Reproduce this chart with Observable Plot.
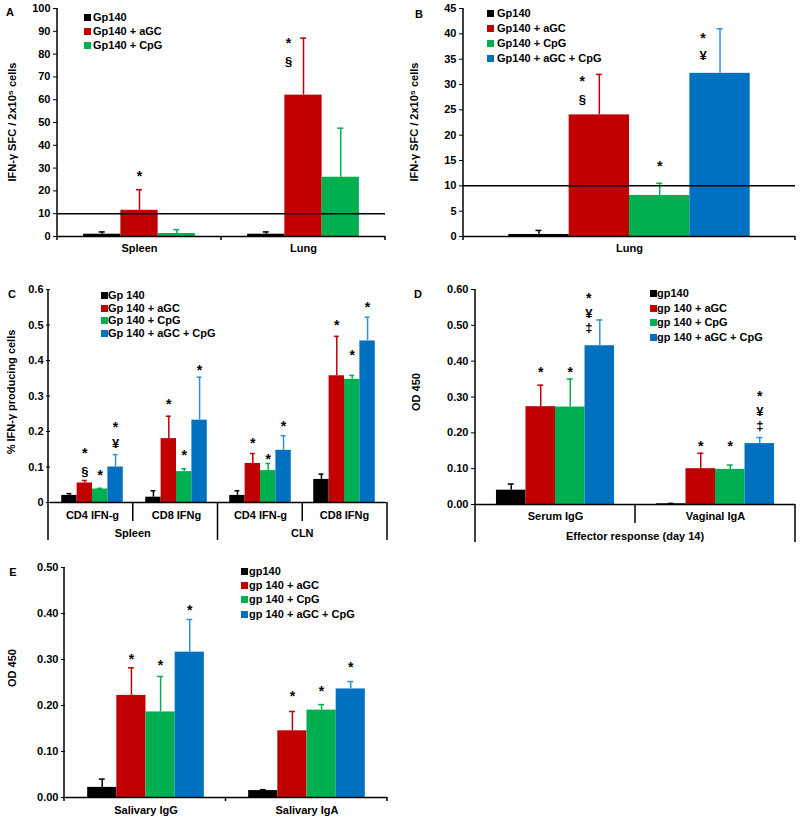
<!DOCTYPE html>
<html><head><meta charset="utf-8">
<script src="https://cdn.jsdelivr.net/npm/d3@7"></script>
<script src="https://cdn.jsdelivr.net/npm/@observablehq/plot@0.6"></script>
<style>
body{margin:0;background:#fff;}
#root{position:relative;width:800px;height:819px;overflow:hidden;font-family:"Liberation Sans",Arial,sans-serif;font-weight:bold;color:#000;}
.panel{position:absolute;}
.leg{position:absolute;font-size:11px;white-space:nowrap;line-height:12px;height:12px;}
.sw{position:absolute;width:7px;height:7px;top:3px;}
</style></head><body><div id="root"></div>
<script>
const COLORS = ["#000000", "#C00000", "#00B050", "#0070C0"];
const BLUE_ERR = "#2E93D6";

// ---- Panel A ----
const aGroups = ["Spleen", "Lung"];
const aSeries = ["Gp140", "Gp140 + aGC", "Gp140 + CpG"];
const aMean = [[1, 11.5, 1.3], [1, 62, 26]];
const aErr = [[2, 20.5, 3], [2, 87, 47.5]];
const aNotes = [["Spleen", "Gp140 + aGC", "*", 27.6], ["Lung", "Gp140 + aGC", "*", 86], ["Lung", "Gp140 + aGC", "§", 76.7]];
const aTicks = [0, 10, 20, 30, 40, 50, 60, 70, 80, 90, 100];

// ---- Panel B ----
const bGroups = ["Lung"];
const bSeries = ["Gp140", "Gp140 + aGC", "Gp140 + CpG", "Gp140 + aGC + CpG"];
const bMean = [[0.4, 24, 8.1, 32.2]];
const bErr = [[1.2, 32, 10.5, 41]];
const bNotes = [["Lung", "Gp140 + aGC", "*", 31.2], ["Lung", "Gp140 + aGC", "§", 27], ["Lung", "Gp140 + CpG", "*", 14.5],
  ["Lung", "Gp140 + aGC + CpG", "*", 39.6], ["Lung", "Gp140 + aGC + CpG", "¥", 35.7]];
const bTicks = [0, 5, 10, 15, 20, 25, 30, 35, 40, 45];

// ---- Panel C ----
const cTissues = ["Spleen", "CLN"];
const cCells = ["CD4 IFN-g", "CD8 IFNg"];
const cGroups = cTissues.flatMap(t => cCells.map(c => t + "|" + c));
const cSeries = ["Gp 140", "Gp 140 + aGC", "Gp 140 + CpG", "Gp 140 + aGC + CpG"];
const cMean = [[0.02, 0.055, 0.038, 0.1], [0.015, 0.18, 0.087, 0.232], [0.02, 0.11, 0.09, 0.147], [0.065, 0.357, 0.347, 0.455]];
const cErr = [[0.025, 0.062, 0.04, 0.135], [0.033, 0.243, 0.095, 0.353], [0.033, 0.138, 0.11, 0.188], [0.08, 0.468, 0.358, 0.522]];
const cNotes = [
  ["Spleen|CD4 IFN-g", "Gp 140 + aGC", "*", 0.146], ["Spleen|CD4 IFN-g", "Gp 140 + aGC", "§", 0.085],
  ["Spleen|CD4 IFN-g", "Gp 140 + CpG", "*", 0.084],
  ["Spleen|CD4 IFN-g", "Gp 140 + aGC + CpG", "*", 0.22], ["Spleen|CD4 IFN-g", "Gp 140 + aGC + CpG", "¥", 0.165],
  ["Spleen|CD8 IFNg", "Gp 140 + aGC", "*", 0.285], ["Spleen|CD8 IFNg", "Gp 140 + CpG", "*", 0.142], ["Spleen|CD8 IFNg", "Gp 140 + aGC + CpG", "*", 0.381],
  ["CLN|CD4 IFN-g", "Gp 140 + aGC", "*", 0.175], ["CLN|CD4 IFN-g", "Gp 140 + CpG", "*", 0.13], ["CLN|CD4 IFN-g", "Gp 140 + aGC + CpG", "*", 0.223],
  ["CLN|CD8 IFNg", "Gp 140 + aGC", "*", 0.508], ["CLN|CD8 IFNg", "Gp 140 + CpG", "*", 0.423], ["CLN|CD8 IFNg", "Gp 140 + aGC + CpG", "*", 0.557]];
const cTicks = [0, 0.1, 0.2, 0.3, 0.4, 0.5, 0.6];

// ---- Panel D ----
const dGroups = ["Serum IgG", "Vaginal IgA"];
const dSeries = ["gp140", "gp 140 + aGC", "gp 140 + CpG", "gp 140 + aGC + CpG"];
const dMean = [[0.04, 0.273, 0.272, 0.443], [0.002, 0.1, 0.098, 0.17]];
const dErr = [[0.057, 0.333, 0.35, 0.515], [0.003, 0.143, 0.11, 0.187]];
const dNotes = [
  ["Serum IgG", "gp 140 + aGC", "*", 0.376], ["Serum IgG", "gp 140 + CpG", "*", 0.376],
  ["Serum IgG", "gp 140 + aGC + CpG", "*", 0.583], ["Serum IgG", "gp 140 + aGC + CpG", "¥", 0.532], ["Serum IgG", "gp 140 + aGC + CpG", "‡", 0.492],
  ["Vaginal IgA", "gp 140 + aGC", "*", 0.171], ["Vaginal IgA", "gp 140 + CpG", "*", 0.171],
  ["Vaginal IgA", "gp 140 + aGC + CpG", "*", 0.311], ["Vaginal IgA", "gp 140 + aGC + CpG", "¥", 0.258], ["Vaginal IgA", "gp 140 + aGC + CpG", "‡", 0.219]];
const dTicks = [0, 0.1, 0.2, 0.3, 0.4, 0.5, 0.6];
const dGroupLabel = "Effector response (day 14)";

// ---- Panel E ----
const eGroups = ["Salivary IgG", "Salivary IgA"];
const eSeries = ["gp140", "gp 140 + aGC", "gp 140 + CpG", "gp 140 + aGC + CpG"];
const eMean = [[0.022, 0.222, 0.186, 0.316], [0.015, 0.145, 0.19, 0.236]];
const eErr = [[0.04, 0.282, 0.263, 0.387], [0.017, 0.187, 0.202, 0.252]];
const eNotes = [
  ["Salivary IgG", "gp 140 + aGC", "*", 0.307], ["Salivary IgG", "gp 140 + CpG", "*", 0.294], ["Salivary IgG", "gp 140 + aGC + CpG", "*", 0.412],
  ["Salivary IgA", "gp 140 + aGC", "*", 0.225], ["Salivary IgA", "gp 140 + CpG", "*", 0.236], ["Salivary IgA", "gp 140 + aGC + CpG", "*", 0.289]];
const eTicks = [0, 0.1, 0.2, 0.3, 0.4, 0.5];

const ifnLabel = "IFN-γ SFC / 2x10⁵ cells";

// ---------- helpers ----------
const root = document.getElementById("root");
const FONT = '"Liberation Sans", Arial, sans-serif';

function buildRows(groups, series, mean, err) {
  return groups.flatMap((g, i) => series.map((s, j) => ({group: g, series: s, idx: j, value: mean[i][j], err: err[i][j]})));
}

function makePanel(cfg) {
  const {left, top, width, height, mL, mR, mT, mB, groups, series, mean, err, notes, yDomain, yTicks, yFmt, pad, fxFmt, refLine, capW, fxPad, noteShift} = cfg;
  const rows = buildRows(groups, series, mean, err);
  const errOf = new Map(rows.map(r => [r.group + "#" + r.series, r.err]));
  const nts = notes.map(([group, series, sym, y]) => ({group, series, sym, y}));
  // a column's notes are moved aside when any of them would sit on its error bar
  const crowded = new Set(nts.filter(n => n.y < errOf.get(n.group + "#" + n.series)).map(n => n.group + "#" + n.series));
  nts.forEach(n => n.side = crowded.has(n.group + "#" + n.series));
  const facetW = (width - mL - mR) / groups.length;
  const bw = facetW / (series.length + 2 * pad);
  const ins = Math.max(0, (bw - capW) / 2);
  const normal = rows.filter(r => r.idx < 3), blue = rows.filter(r => r.idx === 3);
  const marks = [
    Plot.barY(rows, {fx: "group", x: "series", y: "value", fill: "series"}),
    Plot.ruleX(normal, {fx: "group", x: "series", y1: "value", y2: "err", stroke: "series", strokeWidth: 1.5}),
    Plot.tickY(normal, {fx: "group", x: "series", y: "err", stroke: "series", strokeWidth: 1.5, insetLeft: ins, insetRight: ins}),
    Plot.ruleX(blue, {fx: "group", x: "series", y1: "value", y2: "err", stroke: BLUE_ERR, strokeWidth: 1.5}),
    Plot.tickY(blue, {fx: "group", x: "series", y: "err", stroke: BLUE_ERR, strokeWidth: 1.5, insetLeft: ins, insetRight: ins})
  ];
  if (refLine != null) marks.push(Plot.ruleY([refLine], {stroke: "#000", strokeWidth: 1.5}));
  marks.push(Plot.ruleY([0], {stroke: "#000", strokeWidth: 1.5}));
  for (const side of [false, true]) {
    const dx = side ? noteShift : 0;
    marks.push(
      Plot.text(nts.filter(d => d.sym === "*" && d.side === side), {fx: "group", x: "series", y: "y", text: "sym", fontSize: 14, dy: 3, dx, fill: "#000"}),
      Plot.text(nts.filter(d => d.sym !== "*" && d.side === side), {fx: "group", x: "series", y: "y", text: "sym", fontSize: 13, dx, fill: "#000"})
    );
  }
  const plot = Plot.plot({
    width, height, marginLeft: mL, marginRight: mR, marginTop: mT, marginBottom: mB,
    style: {fontFamily: FONT, fontSize: "11px", fontWeight: "bold", color: "#000", background: "transparent", overflow: "visible"},
    fx: {domain: groups, padding: 0, axis: "bottom", tickSize: 0, tickPadding: fxPad, label: null, tickFormat: fxFmt},
    x: {domain: series, paddingInner: 0, paddingOuter: pad, round: false, axis: null},
    y: {domain: yDomain, ticks: yTicks, tickFormat: yFmt, tickSize: 4, tickPadding: 3, label: null},
    color: {domain: series, range: COLORS},
    marks
  });
  const wrap = document.createElement("div");
  wrap.className = "panel";
  wrap.style.left = left + "px";
  wrap.style.top = top + "px";
  wrap.appendChild(plot);
  root.appendChild(wrap);

  const svg = d3.select(plot);
  svg.append("line").attr("x1", mL).attr("x2", mL).attr("y1", mT).attr("y2", height - mB)
    .attr("stroke", "#000").attr("stroke-width", 1.5);
  const r0 = mL, r1 = width - mR;
  const step = (r1 - r0) / groups.length;
  const y0 = height - mB;
  for (let i = 0; i <= groups.length; i++) {
    const len = cfg.sepLen ? cfg.sepLen(i) : 4;
    svg.append("line").attr("x1", r0 + i * step).attr("x2", r0 + i * step).attr("y1", y0).attr("y2", y0 + len)
      .attr("stroke", "#000").attr("stroke-width", 1.5);
  }
  if (cfg.level2) {
    cfg.level2.forEach(([label, boundaryIndex]) => {
      svg.append("text").attr("x", r0 + boundaryIndex * step).attr("y", y0 + cfg.level2Dy)
        .attr("text-anchor", "middle").attr("dominant-baseline", "middle")
        .attr("font-size", 11).attr("font-weight", "bold").attr("font-family", FONT).text(label);
    });
  }
  svg.append("text").attr("transform", `translate(${cfg.yLabelX - left},${cfg.yLabelY - top}) rotate(-90)`)
    .attr("text-anchor", "middle").attr("dominant-baseline", "middle")
    .attr("font-size", 11).attr("font-weight", "bold").attr("font-family", FONT).text(cfg.yLabel);
  svg.append("text").attr("x", cfg.letterX - left).attr("y", cfg.letterY - top)
    .attr("text-anchor", "middle").attr("dominant-baseline", "middle")
    .attr("font-size", 11).attr("font-weight", "bold").attr("font-family", FONT).text(cfg.letter);
  return plot;
}

function legend(series, swX, textX, y0, spacing) {
  series.forEach((s, i) => {
    const row = document.createElement("div");
    row.className = "leg";
    row.style.left = swX + "px";
    row.style.top = (y0 + i * spacing - 6) + "px";
    const sw = document.createElement("span");
    sw.className = "sw";
    sw.style.background = COLORS[i];
    sw.style.left = "0px";
    const tx = document.createElement("span");
    tx.style.position = "absolute";
    tx.style.left = (textX - swX) + "px";
    tx.textContent = s;
    row.appendChild(sw);
    row.appendChild(tx);
    root.appendChild(row);
  });
}

const fmt0 = d => String(d);
const fmt1 = d => d === 0 ? "0" : d.toFixed(1);
const fmt2 = d => d.toFixed(2);

makePanel({left: 0, top: 0, width: 400, height: 260, mL: 57, mR: 15, mT: 8, mB: 24,
  groups: aGroups, series: aSeries, mean: aMean, err: aErr, notes: aNotes, noteShift: -15,
  yDomain: [0, 100], yTicks: aTicks, yFmt: fmt0, pad: 0.7, refLine: 10, capW: 6, fxPad: 8,
  yLabel: ifnLabel, yLabelX: 13, yLabelY: 122, letter: "A", letterX: 10, letterY: 13});

makePanel({left: 400, top: 0, width: 400, height: 260, mL: 63, mR: 5, mT: 8, mB: 24,
  groups: bGroups, series: bSeries, mean: bMean, err: bErr, notes: bNotes, noteShift: -17,
  yDomain: [0, 45], yTicks: bTicks, yFmt: fmt0, pad: 0.75, refLine: 10, capW: 6, fxPad: 8,
  yLabel: ifnLabel, yLabelX: 415, yLabelY: 122, letter: "B", letterX: 419, letterY: 15});

makePanel({left: 0, top: 262, width: 400, height: 290, mL: 48, mR: 13, mT: 27, mB: 50,
  groups: cGroups, series: cSeries, mean: cMean, err: cErr, notes: cNotes, noteShift: -8,
  yDomain: [0, 0.6], yTicks: cTicks, yFmt: fmt1, pad: 0.73, capW: 5, fxPad: 9, fxFmt: d => d.split("|")[1],
  sepLen: i => i % 2 === 0 ? 38 : 19, level2: [[cTissues[0], 1], [cTissues[1], 3]], level2Dy: 32,
  yLabel: "% IFN-γ producing cells", yLabelX: 12, yLabelY: 392, letter: "C", letterX: 12, letterY: 295});

makePanel({left: 400, top: 262, width: 400, height: 290, mL: 75, mR: 5, mT: 27, mB: 48,
  groups: dGroups, series: dSeries, mean: dMean, err: dErr, notes: dNotes, noteShift: -11,
  yDomain: [0, 0.6], yTicks: dTicks, yFmt: fmt2, pad: 0.71, capW: 6, fxPad: 8,
  sepLen: i => i === 1 ? 19 : 38, level2: [[dGroupLabel, 1]], level2Dy: 33,
  yLabel: "OD 450", yLabelX: 417, yLabelY: 392, letter: "D", letterX: 418, letterY: 295});

makePanel({left: 0, top: 552, width: 400, height: 267, mL: 64, mR: 13, mT: 15, mB: 22,
  groups: eGroups, series: eSeries, mean: eMean, err: eErr, notes: eNotes, noteShift: -8,
  yDomain: [0, 0.5], yTicks: eTicks, yFmt: fmt2, pad: 0.76, capW: 6, fxPad: 9,
  yLabel: "OD 450", yLabelX: 13, yLabelY: 668, letter: "E", letterX: 13, letterY: 573});

legend(aSeries, 84, 93, 17, 14);
legend(bSeries, 487, 497, 13, 15);
legend(cSeries, 101, 108, 295, 12.5);
legend(dSeries, 650, 657, 293, 14.5);
legend(eSeries, 241, 249, 571, 14.2);
</script></body></html>
